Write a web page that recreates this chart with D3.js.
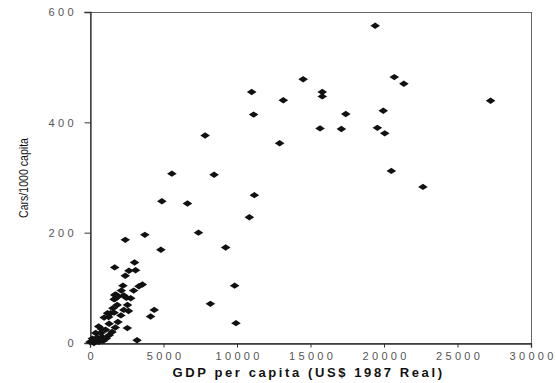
<!DOCTYPE html>
<html><head><meta charset="utf-8">
<script src="https://cdn.jsdelivr.net/npm/d3@7"></script>
<style>body{margin:0;background:#fff}svg{display:block}</style>
</head><body>
<svg id="c" width="556" height="383"></svg>
<script>
const gdp = [19400,14500,20700,21350,11000,15800,15800,13150,27250,19950,11130,17400,15650,17100,19550,20050,7830,12900,8440,20500,5570,11180,22650,4890,6630,10840,7380,3730,2400,9230,4820,9840,8190,9930,
3030,1680,2650,3100,2400,3560,3330,2240,2130,2970,1750,2300,2770,1700,1640,2550,1850,1560,4370,2620,1400,4120,1190,1640,960,1270,2540,590,1060,1720,390,740,1300,160,500,840,0,270,610,3200,
1680,1900,2470,200,450,900,1100,1500,1900,2100,1300,800,2300];
const cars = [575,478,482,470,455,455,447,440,439,421,414,415,389,388,390,380,376,362,305,312,307,268,283,257,253,228,200,196,187,173,169,104,71,36,
146,137,131,132,122,106,103,104,95,95,88,86,81,80,79,69,69,63,60,58,54,48,54,55,46,47,27,30,24,28,18,18,14,8,10,11,2,0,2,5,
87,84,82,3,6,4,8,20,38,50,35,25,60];
const xTicks = [0,5000,10000,15000,20000,25000,30000];
const yTicks = [0,200,400,600];
const xTitle = "GDP per capita (US$ 1987 Real)";
const yTitle = "Cars/1000 capita";

const svg = d3.select("#c");
const L=90, R=531, T=12, B=343;
const x = d3.scaleLinear().domain([0,30000]).range([L,R]);
const y = d3.scaleLinear().domain([0,600]).range([B,T]);

svg.append("rect").attr("x",L+0.5).attr("y",T+0.5).attr("width",R-L).attr("height",B-T)
  .attr("fill","none").attr("stroke","#666").attr("stroke-width",1);

const xa = svg.append("g").attr("transform",`translate(0,${B+0.5})`)
  .call(d3.axisBottom(x).tickValues(xTicks).tickFormat(d3.format("d")).tickSize(4).tickPadding(5));
const ya = svg.append("g").attr("transform",`translate(${L+0.5},0)`)
  .call(d3.axisLeft(y).tickValues(yTicks).tickSize(6).tickPadding(11));
[xa,ya].forEach(g=>{
  g.select(".domain").attr("stroke","#333").attr("stroke-width",1.3);
  g.selectAll(".tick line").attr("stroke","#333");
  g.selectAll(".tick text").attr("fill","#555").attr("font-family","Liberation Sans, Arial, sans-serif")
   .attr("font-size",11).style("letter-spacing","3.3px");
});
xa.selectAll(".tick text").attr("dx","1.6px");
ya.selectAll(".tick text").attr("dx","3.3px").attr("dy","0.36em");

const diamond = "M-4.8,0L0,-3.2L4.8,0L0,3.2Z";
svg.append("g").selectAll("path").data(gdp.map((g,i)=>[g,cars[i]])).join("path")
  .attr("d",diamond).attr("transform",d=>`translate(${x(d[0])},${y(d[1])})`)
  .attr("fill","#111");

svg.append("text").attr("x",(L+R)/2-2).attr("y",377).attr("text-anchor","middle")
  .attr("font-family","Liberation Sans, Arial, sans-serif").attr("font-weight","bold")
  .attr("font-size",13).style("letter-spacing","2.6px").attr("fill","#111").text(xTitle);

svg.append("text").attr("transform","translate(28,178) rotate(-90)").attr("text-anchor","middle")
  .attr("font-family","Liberation Sans, Arial, sans-serif").attr("font-size",13.5)
  .attr("textLength",80).attr("lengthAdjust","spacingAndGlyphs").attr("fill","#111").text(yTitle);
</script>
</body></html>
